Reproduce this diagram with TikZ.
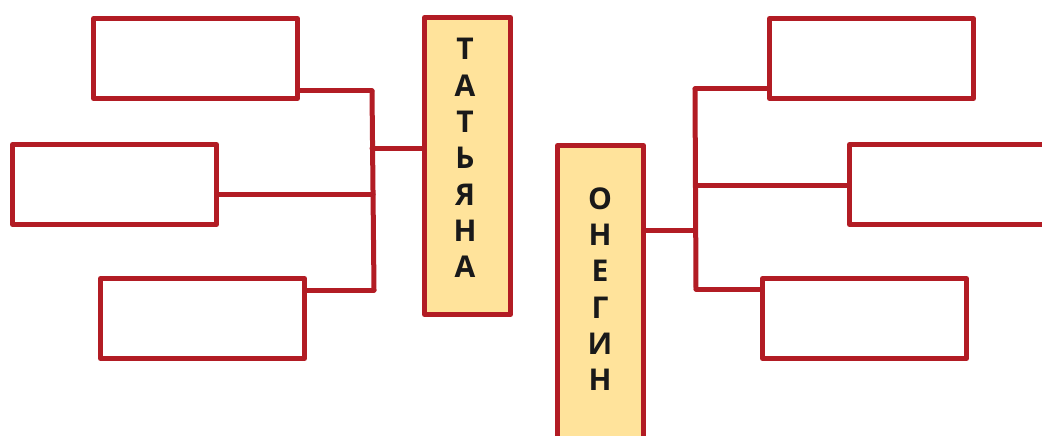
\documentclass[tikz,border=0pt]{standalone}
\usepackage{fontspec}
\newfontfamily\namefont{Open Sans}
\usepackage{tikz}
\usetikzlibrary{positioning}
\definecolor{bracketred}{RGB}{178,28,36}
\definecolor{nameyellow}{RGB}{255,227,155}

\tikzset{
  slot/.style={draw=bracketred, line width=5pt, line join=round,
    minimum width=204pt, minimum height=80pt, inner sep=0pt, anchor=north west},
  namebox/.style={draw=bracketred, fill=nameyellow, line width=5pt, line join=round,
    minimum width=86pt, inner sep=0pt, anchor=north west},
  letters/.style={align=center, inner sep=0pt, text=black!90,
    font=\namefont\bfseries\fontsize{30}{36.3}\selectfont},
  wire/.style={draw=bracketred, line width=5pt, line cap=round},
}

\begin{document}
\begin{tikzpicture}[x=1pt,y=-1pt]
  \useasboundingbox (0,0) rectangle (1042,436);
  \clip (0,0) rectangle (1042,436);

  % left: three slots into Tatyana
  \node[slot] (l1) at (91,16) {};
  \node[slot] (l2) at (10,142) {};
  \node[slot] (l3) at (98,276) {};

  \node[namebox, minimum height=297pt] (tatbox) at (422,15) {};
  \node[letters] (tatname) at (465,158) {Т\\А\\Т\\Ь\\Я\\Н\\А};

  \coordinate (ltop) at (372,91);
  \coordinate (lmid) at (373,194);
  \coordinate (lbot) at (374,290);
  \coordinate (ljoin) at (372,148);
  \draw[wire] (ltop) -- (lbot);
  \draw[wire] (l1.east |- ltop) -- (ltop);
  \draw[wire] (l2.east |- lmid) -- (lmid);
  \draw[wire] (l3.east |- lbot) -- (lbot);
  \draw[wire] (ljoin) -- (tatbox.west |- ljoin);

  % right: Onegin into three slots
  \node[namebox, minimum height=320pt] (onegbox) at (555,143) {};
  \node[letters] (onegname) at (600,289) {О\\Н\\Е\\Г\\И\\Н};

  \node[slot] (r1) at (767,16) {};
  \node[slot, minimum width=260pt] (r2) at (847,142) {};
  \node[slot] (r3) at (760,276) {};

  \coordinate (rtop) at (695,89);
  \coordinate (rmid) at (696,185);
  \coordinate (rbot) at (696,289);
  \coordinate (rjoin) at (695,230);
  \draw[wire] (rtop) -- (rbot);
  \draw[wire] (rtop) -- (r1.west |- rtop);
  \draw[wire] (rmid) -- (r2.west |- rmid);
  \draw[wire] (rbot) -- (r3.west |- rbot);
  \draw[wire] (onegbox.east |- rjoin) -- (rjoin);
\end{tikzpicture}
\end{document}
